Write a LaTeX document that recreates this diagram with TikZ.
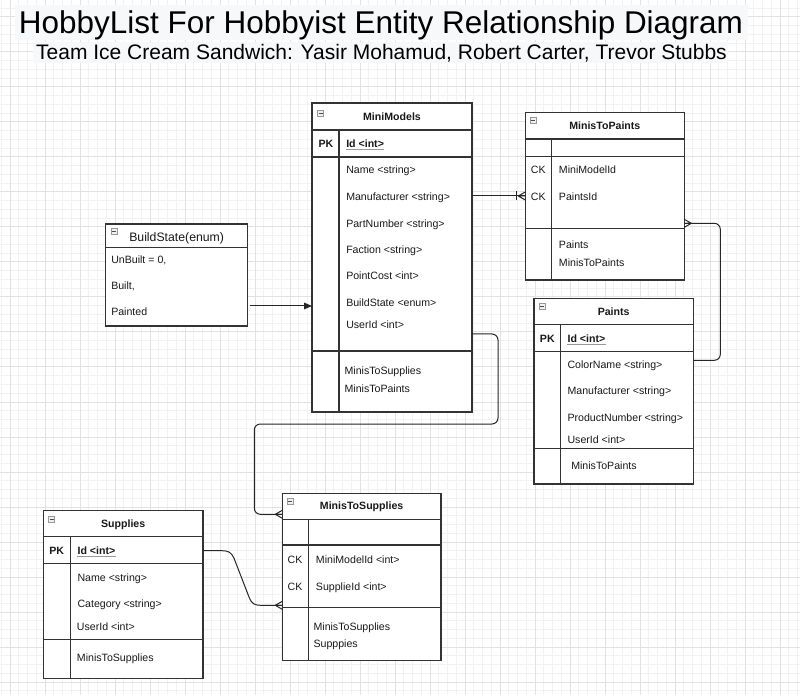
\documentclass[tikz,border=0pt]{standalone}
\usepackage{fontspec}
\setmainfont{Liberation Sans}
\usetikzlibrary{arrows.meta,calc}
\definecolor{gridminor}{RGB}{242,242,242}
\definecolor{gridmajor}{RGB}{226,226,226}
\definecolor{titlebg}{RGB}{246,248,250}
\definecolor{ink}{RGB}{25,25,25}
\begin{document}
\begin{tikzpicture}[x=0.75pt,y=-0.75pt,
  tbl/.style={draw=black!80, fill=white, line width=0.8pt, inner sep=0pt, outer sep=0pt},
  tline/.style={draw=black!80, line width=0.8pt},
  conn/.style={draw=black!85, line width=0.75pt},
  rowtxt/.style={anchor=base west, inner sep=0pt, text=ink, font=\fontsize{7.95}{9}\selectfont, yshift=-2.85pt},
  hdrtxt/.style={anchor=base, inner sep=0pt, text=ink, font=\fontsize{7.95}{9}\selectfont\bfseries, yshift=-2.85pt},
  keytxt/.style={anchor=base, inner sep=0pt, text=ink, font=\fontsize{7.95}{9}\selectfont, yshift=-2.85pt},
  pktxt/.style={anchor=base, inner sep=0pt, text=ink, font=\fontsize{7.95}{9}\selectfont\bfseries, yshift=-2.85pt},
  idtxt/.style={anchor=base west, inner sep=0pt, text=ink, font=\fontsize{7.95}{9}\selectfont\bfseries, yshift=-2.85pt},
  uline/.style={draw=gray!80, line width=0.6pt},
  collapse/.pic={\draw[gray!80, line width=0.5pt, fill=gray!12] (-3,-3) rectangle (3,3);
                 \draw[black!70, line width=0.6pt] (-1.8,0) -- (1.8,0);},
  crow/.pic={\draw[conn] (-7,0) -- (0,-4) (-7,0) -- (0,0) (-7,0) -- (0,4);},
  onebar/.pic={\draw[conn] (-8.5,-4.5) -- (-8.5,4.5);}
]
% background and grid
\fill[white] (0,0) rectangle (800,695);
\useasboundingbox (0,0) rectangle (800,695);
\foreach \k in {0,...,91} {\draw[gridminor, line width=0.75pt] ({1.25+8.75*\k},0) -- ({1.25+8.75*\k},695);}
\foreach \k in {0,...,79} {\draw[gridminor, line width=0.75pt] (0,{8.25+8.75*\k}) -- (800,{8.25+8.75*\k});}
\foreach \k in {0,...,22} {\draw[gridmajor, line width=0.75pt] ({10+35*\k},0) -- ({10+35*\k},695);}
\foreach \k in {0,...,19} {\draw[gridmajor, line width=0.75pt] (0,{17+35*\k}) -- (800,{17+35*\k});}

% titles
\fill[titlebg] (15,5) rectangle (748,40);
\fill[titlebg] (33,41.7) rectangle (728,63.3);
\node[anchor=base, inner sep=0pt, font=\fontsize{23.6}{26}\selectfont] (title) at (381,33.3) {HobbyList For Hobbyist Entity Relationship Diagram};
\node[anchor=base, inner sep=0pt, font=\fontsize{15.75}{18}\selectfont] (subtitle) at (381.5,60) {Team Ice Cream Sandwich: Yasir Mohamud, Robert Carter, Trevor Stubbs};

% ---------- MiniModels ----------
\node[tbl, minimum width=160*0.75pt, minimum height=309*0.75pt] (mm) at (392,257.5) {};
\draw[tline] (312,130) -- (472,130) (312,157) -- (472,157) (312,351) -- (472,351) (339,130) -- (339,412);
\pic at (320.7,113.3) {collapse};
\node[hdrtxt] (mmtitle) at (392,117) {MiniModels};
\node[pktxt] (mmpk) at (326,144) {PK};
\node[idtxt] (mmid) at (346,144) {Id <int>};
\draw[uline] ($(mmid.base west)+(0,2)$) -- ($(mmid.base east)+(0,2)$);
\node[rowtxt] (mm1) at (346,170) {Name <string>};
\node[rowtxt] (mm2) at (346,196.7) {Manufacturer <string>};
\node[rowtxt] (mm3) at (346,223.3) {PartNumber <string>};
\node[rowtxt] (mm4) at (346,250) {Faction <string>};
\node[rowtxt] (mm5) at (346,275.7) {PointCost <int>};
\node[rowtxt] (mm6) at (346,302.3) {BuildState <enum>};
\node[rowtxt] (mm7) at (346,325) {UserId <int>};
\node[rowtxt] (mm8) at (344.3,370.3) {MinisToSupplies};
\node[rowtxt] (mm9) at (344.3,388.3) {MinisToPaints};

% ---------- MinisToPaints ----------
\node[tbl, minimum width=159*0.75pt, minimum height=167.7*0.75pt] (mtp) at (604.8,196.15) {};
\draw[tline] (525.3,139) -- (684.3,139) (525.3,156.7) -- (684.3,156.7) (525.3,228.3) -- (684.3,228.3) (551.3,139) -- (551.3,280);
\pic at (533,120.7) {collapse};
\node[hdrtxt] (mtptitle) at (604.8,126) {MinisToPaints};
\node[keytxt] (mtpck1) at (538.3,170) {CK};
\node[keytxt] (mtpck2) at (538.3,196.7) {CK};
\node[rowtxt] (mtp1) at (558.7,170) {MiniModelId};
\node[rowtxt] (mtp2) at (558.7,196.7) {PaintsId};
\node[rowtxt] (mtp3) at (558.7,245) {Paints};
\node[rowtxt] (mtp4) at (558.7,262.7) {MinisToPaints};

% ---------- Paints ----------
\node[tbl, minimum width=159.3*0.75pt, minimum height=185.7*0.75pt] (pt) at (613.65,391.15) {};
\draw[tline] (534,324.3) -- (693.3,324.3) (534,351.7) -- (693.3,351.7) (534,448.3) -- (693.3,448.3) (560.3,324.3) -- (560.3,484);
\pic at (542,306) {collapse};
\node[hdrtxt] (pttitle) at (613.65,311.7) {Paints};
\node[pktxt] (ptpk) at (547.3,338.3) {PK};
\node[idtxt] (ptid) at (567.3,338.3) {Id <int>};
\draw[uline] ($(ptid.base west)+(0,2)$) -- ($(ptid.base east)+(0,2)$);
\node[rowtxt] (pt1) at (567.3,364.3) {ColorName <string>};
\node[rowtxt] (pt2) at (567.3,391) {Manufacturer <string>};
\node[rowtxt] (pt3) at (567.3,417.7) {ProductNumber <string>};
\node[rowtxt] (pt4) at (567.3,440) {UserId <int>};
\node[rowtxt] (pt5) at (571,466) {MinisToPaints};

% ---------- MinisToSupplies ----------
\node[tbl, minimum width=158.7*0.75pt, minimum height=167.4*0.75pt] (mts) at (361.65,577) {};
\draw[tline] (282.3,519.3) -- (441,519.3) (282.3,545) -- (441,545) (282.3,607.7) -- (441,607.7) (308.3,519.3) -- (308.3,660.7);
\pic at (290,501) {collapse};
\node[hdrtxt] (mtstitle) at (361.65,506) {MinisToSupplies};
\node[keytxt] (mtsck1) at (295,559.7) {CK};
\node[keytxt] (mtsck2) at (295,586.3) {CK};
\node[rowtxt] (mts1) at (315.7,559.7) {MiniModelId <int>};
\node[rowtxt] (mts2) at (315.7,586.3) {SupplieId <int>};
\node[rowtxt] (mts3) at (313.3,626.7) {MinisToSupplies};
\node[rowtxt] (mts4) at (313.3,644) {Supppies};

% ---------- Supplies ----------
\node[tbl, minimum width=159.7*0.75pt, minimum height=167.6*0.75pt] (sup) at (123.15,594.5) {};
\draw[tline] (43.3,536.7) -- (203,536.7) (43.3,563.3) -- (203,563.3) (43.3,639.3) -- (203,639.3) (70.7,536.7) -- (70.7,678.3);
\pic at (51.7,519.3) {collapse};
\node[hdrtxt] (suptitle) at (123.15,524) {Supplies};
\node[pktxt] (suppk) at (56.7,550.7) {PK};
\node[idtxt] (supid) at (77.3,550.7) {Id <int>};
\draw[uline] ($(supid.base west)+(0,2)$) -- ($(supid.base east)+(0,2)$);
\node[rowtxt] (sup1) at (77.3,577.3) {Name <string>};
\node[rowtxt] (sup2) at (77.3,604) {Category <string>};
\node[rowtxt] (sup3) at (76.7,626.7) {UserId <int>};
\node[rowtxt] (sup4) at (76.7,657.3) {MinisToSupplies};

% ---------- BuildState ----------
\node[tbl, minimum width=141.6*0.75pt, minimum height=102*0.75pt] (bs) at (176.5,275) {};
\draw[tline] (105.7,247.3) -- (247.3,247.3);
\pic at (114,231.7) {collapse};
\node[anchor=base west, inner sep=0pt, text=ink, font=\fontsize{9.2}{11}\selectfont, yshift=-3.3pt] (bstitle) at (129,236.7) {BuildState(enum)};
\node[rowtxt] (bs1) at (111,259.3) {UnBuilt = 0,};
\node[rowtxt] (bs2) at (111,286) {Built,};
\node[rowtxt] (bs3) at (111,311.7) {Painted};

% ---------- connectors ----------
% BuildState -> MiniModels
\draw[conn, -{Triangle[length=6pt, width=5pt]}] ($(bs.south east)+(3,-20)$) coordinate (a1) -- (a1 -| mm.west);
% MiniModels -> MinisToPaints (one to many)
\draw[conn] ($(mm.north east)+(0,93)$) coordinate (b1) -- (b1 -| mtp.west) coordinate (b2);
\pic at (b2) {crow};
\pic at (b2) {onebar};
% Paints -> MinisToPaints
\draw[conn, rounded corners=4.5pt] ($(pt.north east)+(0,62)$) -- ++(27,0) |- ($(mtp.north east)+(0,111)$) coordinate (c2);
\pic[xscale=-1] at (c2) {crow};
% MiniModels -> MinisToSupplies
\draw[conn, rounded corners=4.5pt] ($(mm.north east)+(0,231)$) -- ++(26,0) -- ++(0,90) -| ($(mts.north west)+(-28,21)$) -- ($(mts.north west)+(0,21)$) coordinate (d2);
\pic at (d2) {crow};
% Supplies -> MinisToSupplies
\coordinate (s1) at ($(sup.north east)+(0,40)$);
\coordinate (e1) at ($(mts.north west)+(0,112)$);
\draw[conn] (s1) -- ($(s1)+(18,0)$) .. controls ($(s1)+(26,0)$) and ($(s1)+(28,1.5)$) .. ($(s1)+(31,7.5)$)
  -- ($(e1)+(-33.3,-8.3)$) .. controls ($(e1)+(-30.3,-1.3)$) and ($(e1)+(-28.3,0)$) .. ($(e1)+(-20.3,0)$) -- (e1);
\pic at (e1) {crow};
\end{tikzpicture}
\end{document}
